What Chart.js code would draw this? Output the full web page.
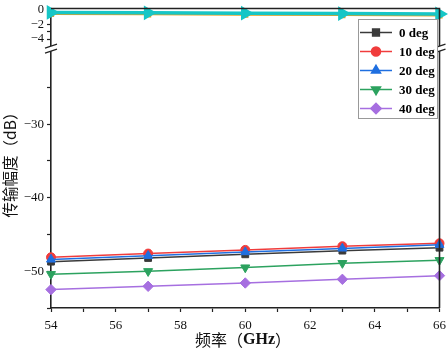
<!DOCTYPE html>
<html><head><meta charset="utf-8">
<script src="https://cdn.jsdelivr.net/npm/chart.js@4/dist/chart.umd.min.js"></script>
<style>html,body{margin:0;padding:0;background:#fff}canvas{display:block}</style>
</head><body>
<canvas id="c" width="448" height="351"></canvas>
<script>
// ---- data ----
const frequencies = [54, 57, 60, 63, 66];
const seriesLabels = ['0 deg', '10 deg', '20 deg', '30 deg', '40 deg'];
const deg0  = [-48.7, -48.2, -47.7, -47.2, -46.8];
const deg10 = [-48.1, -47.6, -47.1, -46.6, -46.2];
const deg20 = [-48.4, -47.9, -47.4, -46.9, -46.4];
const deg30 = [-50.4, -50.0, -49.5, -48.9, -48.5];
const deg40 = [-52.5, -52.05, -51.6, -51.1, -50.6];
const topOrange = [-0.6, -0.65, -0.7, -0.75, -0.8];
const topCyan   = [-0.4, -0.45, -0.5, -0.55, -0.6];
const xTicks = [54, 55, 56, 57, 58, 59, 60, 61, 62, 63, 64, 65, 66];
const xLabels = [54, 56, 58, 60, 62, 64, 66];
const yTopTicks = [0, -1, -2, -3, -4];
const yTopLabels = [0, -2, -4];
const yBotTicks = [-25, -30, -35, -40, -45, -50, -55];
const yBotLabels = [-30, -40, -50];
const xTitleParts = ['频率（', 'GHz', '）'];
const yTitle = '传输幅度（dB）';

// ---- helpers ----
const SERIF = '"Liberation Serif", "Times New Roman", serif';
const CJK = '"Noto Sans CJK SC", sans-serif';
const AX = '#222';
const fmt = v => (v < 0 ? '\u2212' + Math.abs(v) : String(v));
const pts = arr => frequencies.map((f, i) => ({x: f, y: arr[i]}));

const styles = [
  {c: '#3a3a3a', s: 'rect', r: 4.8, rot: 0},
  {c: '#f03c3c', s: 'circle', r: 4.5, rot: 0},
  {c: '#1f6fe0', s: 'triangle', r: 5.2, rot: 0},
  {c: '#2ca25f', s: 'triangle', r: 5.2, rot: 180},
  {c: '#a66fe0', s: 'rectRot', r: 5.2, rot: 0}
];
const lowSeries = [deg0, deg10, deg20, deg30, deg40];

const datasets = lowSeries.map((arr, i) => ({
  label: seriesLabels[i],
  data: pts(arr),
  yAxisID: 'yBot',
  borderColor: styles[i].c,
  backgroundColor: styles[i].c,
  pointBackgroundColor: styles[i].c,
  pointBorderColor: styles[i].c,
  pointStyle: styles[i].s,
  pointRadius: styles[i].r,
  pointRotation: styles[i].rot,
  borderWidth: 1.5,
  pointBorderWidth: 1,
  clip: false,
  order: 20 - i,
  inLegend: true
}));
datasets.push({
  label: 'top-a', data: pts(topOrange), yAxisID: 'yTop',
  borderColor: '#e8a020', backgroundColor: '#e8a020', pointBackgroundColor: '#e8a020', pointBorderColor: '#e8a020',
  pointStyle: 'rect', pointRadius: 3, borderWidth: 2, clip: false, order: 9
});
datasets.push({
  label: 'top-b', data: pts(topCyan), yAxisID: 'yTop',
  borderColor: '#16c6c6', backgroundColor: '#16c6c6', pointBackgroundColor: '#16c6c6', pointBorderColor: '#16c6c6',
  pointStyle: 'triangle', pointRotation: 90, pointRadius: 5, borderWidth: 3.5, clip: false, order: 1
});

function setTicks(list) { return s => { s.ticks = list.map(v => ({value: v})); }; }
function noPad(s) { s.paddingTop = 0; s.paddingBottom = 0; s.paddingLeft = 0; s.paddingRight = 0; }
function yAxis(extra) {
  return Object.assign({
    type: 'linear', position: 'left', stack: 'y', offset: false,
    grid: {display: true, drawOnChartArea: false, drawTicks: true, tickLength: 4, color: AX, tickWidth: 1.2},
    border: {display: true, color: AX, width: 1.6},
    afterFit: s => { s.width = 51; noPad(s); }
  }, extra);
}

const decor = {
  id: 'decor',
  afterDraw(chart) {
    const ctx = chart.ctx, a = chart.chartArea;
    const yBot = chart.scales.yBot;
    ctx.save();
    // frame top/right
    ctx.strokeStyle = AX; ctx.lineWidth = 1.6;
    ctx.beginPath();
    ctx.moveTo(a.left, a.top); ctx.lineTo(a.right, a.top); ctx.lineTo(a.right, a.bottom);
    ctx.stroke();
    // axis break
    const yB = yBot.top + 0.5, yA = yB - 5;
    ctx.fillStyle = '#fff';
    [a.left, a.right].forEach(x => {
      ctx.fillRect(x - 2, yA, 4, yB - yA);
      ctx.lineWidth = 1.2;
      ctx.beginPath();
      ctx.moveTo(x - 6, yA + 2); ctx.lineTo(x + 6, yA - 2);
      ctx.moveTo(x - 6, yB + 2); ctx.lineTo(x + 6, yB - 2);
      ctx.stroke();
    });
    // legend
    const lx = 358, ly = 19, lw = 79, lh = 99;
    ctx.fillStyle = '#fff';
    ctx.fillRect(lx, ly, lw, lh);
    ctx.strokeStyle = '#999'; ctx.lineWidth = 1;
    ctx.strokeRect(lx + 0.5, ly + 0.5, lw, lh);
    const items = chart.data.datasets.filter(d => d.inLegend);
    items.forEach((d, i) => {
      const cy = 32.5 + i * 19;
      ctx.strokeStyle = d.borderColor; ctx.lineWidth = 1.5;
      ctx.beginPath(); ctx.moveTo(360, cy); ctx.lineTo(392, cy); ctx.stroke();
      ctx.fillStyle = d.borderColor;
      Chart.helpers.drawPoint(ctx, {pointStyle: d.pointStyle, rotation: d.pointRotation || 0, radius: d.pointRadius, borderWidth: 1}, 376, cy);
      ctx.fillStyle = '#000';
      ctx.font = 'bold 13px ' + SERIF;
      ctx.textAlign = 'left'; ctx.textBaseline = 'middle';
      ctx.fillText(d.label, 399, cy + 1);
    });
    // y title
    ctx.save();
    ctx.translate(10, 161);
    ctx.rotate(-Math.PI / 2);
    ctx.fillStyle = '#111';
    ctx.font = '15.5px ' + CJK;
    ctx.textAlign = 'center'; ctx.textBaseline = 'middle';
    ctx.fillText(yTitle, 0, 0);
    ctx.restore();
    // x title
    const fonts = ['16px ' + CJK, 'bold 16px ' + SERIF, '16px ' + CJK];
    let widths = xTitleParts.map((t, i) => { ctx.font = fonts[i]; return ctx.measureText(t).width; });
    let total = widths.reduce((p, q) => p + q, 0);
    let x = 243 - total / 2;
    ctx.fillStyle = '#111'; ctx.textAlign = 'left'; ctx.textBaseline = 'middle';
    xTitleParts.forEach((t, i) => { ctx.font = fonts[i]; ctx.fillText(t, x, 340); x += widths[i]; });
    ctx.restore();
  }
};

new Chart(document.getElementById('c'), {
  type: 'line',
  data: {datasets},
  options: {
    responsive: false,
    animation: false,
    layout: {padding: {top: 6, right: 8, left: 0, bottom: 0}},
    plugins: {legend: {display: false}, tooltip: {enabled: false}},
    scales: {
      x: {
        type: 'linear', min: 54, max: 66, position: 'bottom',
        grid: {display: true, drawOnChartArea: false, drawTicks: true, tickLength: 4, color: AX, tickWidth: 1.2},
        border: {display: true, color: AX, width: 1.6},
        ticks: {font: {family: SERIF, size: 13}, color: '#111', padding: 6, autoSkip: false, maxRotation: 0,
                callback: v => (xLabels.includes(v) ? String(v) : '')},
        afterBuildTicks: setTicks(xTicks),
        afterFit: s => { s.height = 43; noPad(s); }
      },
      yBot: yAxis({
        min: -55, max: -20, stackWeight: 260,
        afterBuildTicks: setTicks(yBotTicks),
        ticks: {font: {family: SERIF, size: 13}, color: '#111', padding: 3, autoSkip: false,
                callback: v => (yBotLabels.includes(v) ? fmt(v) : '')}
      }),
      yTop: yAxis({
        min: -5.53, max: 0.13, stackWeight: 42.5,
        afterBuildTicks: setTicks(yTopTicks),
        ticks: {font: {family: SERIF, size: 12.5}, color: '#111', padding: 3, autoSkip: false,
                callback: v => (yTopLabels.includes(v) ? fmt(v) : '')}
      })
    }
  },
  plugins: [decor]
});
</script>
</body></html>
